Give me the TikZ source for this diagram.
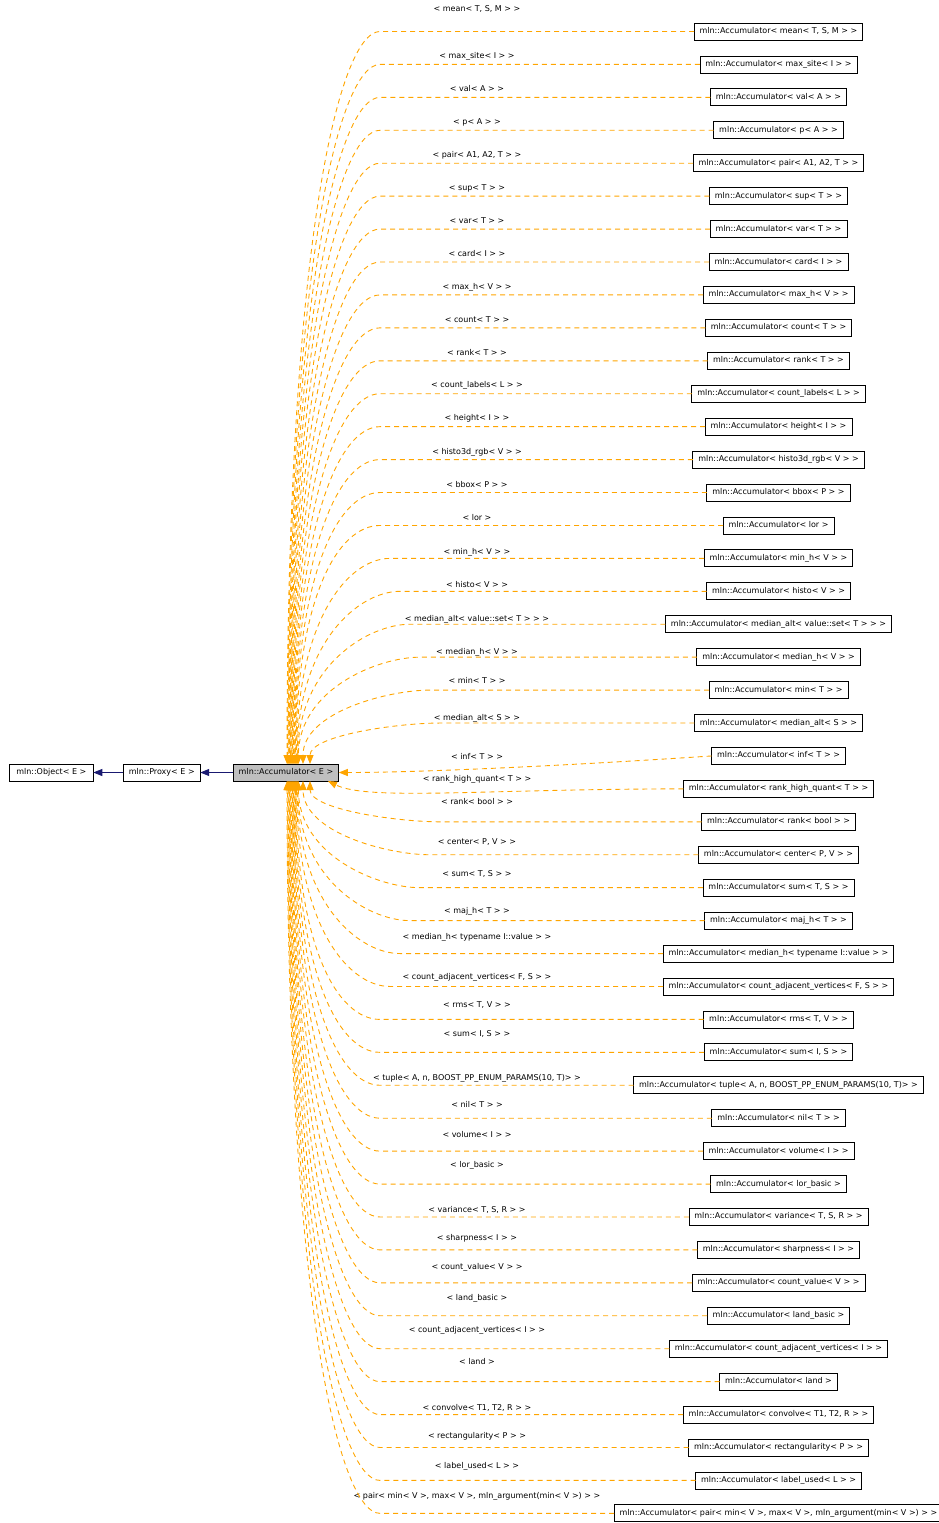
\documentclass[tikz,border=0pt]{standalone}
\usepackage{fontspec}
\setmainfont{DejaVu Sans}
\usepackage{xcolor}
\usepackage{tikz}
\usetikzlibrary{arrows.meta, positioning}

\definecolor{tmplorange}{HTML}{FFA500}
\definecolor{inhblue}{HTML}{191970}
\definecolor{accgrey}{HTML}{BFBFBF}

\begin{document}
\begin{tikzpicture}[
    x=1pt, y=-1pt,
    font=\fontsize{8}{9.6}\selectfont,
    classbox/.style={draw=black, line width=0.8pt, rectangle, fill=white,
      minimum height=17pt, inner xsep=5.5pt, inner ysep=0pt, outer sep=0pt,
      text height=6pt, text depth=2pt},
    tmpllabel/.style={inner sep=0pt, text height=6pt, text depth=2pt},
    inherit/.style={draw=inhblue, line width=0.9pt, -{Triangle[length=9pt,width=7pt]}},
    tmplarrow/.style={draw=tmplorange, line width=0.9pt, dash pattern=on 5pt off 4pt,
      -{Triangle[length=9pt,width=7pt]}}
]
\useasboundingbox (0,0) rectangle (938,1523);

\node[classbox, fill=accgrey] (acc) at (286,772.5) {mln::Accumulator< E >};
\node[classbox, left=33pt of acc] (proxy) {mln::Proxy< E >};
\node[classbox, left=30pt of proxy, minimum width=84pt] (object) {mln::Object< E >};

\draw[inherit] (acc) -- (proxy);
\draw[inherit] (proxy) -- (object);

\foreach \tname/\ly [count=\i] in {
    {mean< T, S, M >}/10, {max\_site< I >}/56, {val< A >}/89, {p< A >}/122,
    {pair< A1, A2, T >}/155, {sup< T >}/188, {var< T >}/221, {card< I >}/254,
    {max\_h< V >}/287, {count< T >}/320, {rank< T >}/353, {count\_labels< L >}/385,
    {height< I >}/418, {histo3d\_rgb< V >}/452, {bbox< P >}/485, {lor}/518,
    {min\_h< V >}/552, {histo< V >}/585, {median\_alt< value::set< T > >}/619,
    {median\_h< V >}/652, {min< T >}/681, {median\_alt< S >}/718, {inf< T >}/757,
    {rank\_high\_quant< T >}/779, {rank< bool >}/802, {center< P, V >}/842,
    {sum< T, S >}/874, {maj\_h< T >}/911, {median\_h< typename I::value >}/937,
    {count\_adjacent\_vertices< F, S >}/977, {rms< T, V >}/1005, {sum< I, S >}/1034,
    {tuple< A, n, BOOST\_PP\_ENUM\_PARAMS(10, T)>}/1078, {nil< T >}/1105,
    {volume< I >}/1135, {lor\_basic}/1165, {variance< T, S, R >}/1210,
    {sharpness< I >}/1238, {count\_value< V >}/1267, {land\_basic}/1298,
    {count\_adjacent\_vertices< I >}/1330, {land}/1362, {convolve< T1, T2, R >}/1408,
    {rectangularity< P >}/1436, {label\_used< L >}/1466,
    {pair< min< V >, max< V >, mln\_argument(min< V >) >}/1496}{
  \pgfmathtruncatemacro{\j}{\i-1}
  \ifnum\i=1
    \node[classbox] (inst\i) at (778.5,31.5) {mln::Accumulator< \tname{} >};
  \else
    \node[classbox, below=15.93pt of inst\j] (inst\i) {mln::Accumulator< \tname{} >};
  \fi
  \node[tmpllabel] (lab\i) at (477,\ly) {< \tname{} >};
}

\foreach \i in {1,...,22}{
  \pgfmathsetmacro{\n}{23-\i}
  \pgfmathsetmacro{\dx}{\n>2 ? 1+0.6*(22-\n) : (\n==2 ? 17 : 24)}
  \pgfmathsetmacro{\kx}{\n>6 ? 338 : 338+10*(7-\n)}
  \pgfmathsetmacro{\yy}{31.5+32.93*(\i-1)}
  \pgfmathsetmacro{\ll}{764-\yy}
  \coordinate (tip\i) at ([xshift=\dx pt]acc.north);
  \draw[tmplarrow] (inst\i.west) -- ({\kx+42},\yy)
    .. controls (\kx,\yy) and ({286+\dx},{\yy+0.3*\ll}) .. (tip\i);
}
\draw[tmplarrow] (inst23.west) .. controls +(-150,10) and +(80,0) .. (acc.east);
\coordinate (tip24) at ([xshift=42pt]acc.south);
\draw[tmplarrow] (inst24.west) .. controls +(-200,0) and +(40,20) .. (tip24);
\foreach \i in {25,...,46}{
  \pgfmathsetmacro{\n}{\i-24}
  \pgfmathsetmacro{\dx}{\n>2 ? 1+0.6*(22-\n) : (\n==2 ? 17 : 24)}
  \pgfmathsetmacro{\kx}{\n>6 ? 338 : 338+10*(7-\n)}
  \pgfmathsetmacro{\yy}{31.5+32.93*(\i-1)}
  \pgfmathsetmacro{\ll}{\yy-781}
  \coordinate (tip\i) at ([xshift=\dx pt]acc.south);
  \draw[tmplarrow] (inst\i.west) -- ({\kx+42},\yy)
    .. controls (\kx,\yy) and ({286+\dx},{\yy-0.3*\ll}) .. (tip\i);
}
\end{tikzpicture}
\end{document}
